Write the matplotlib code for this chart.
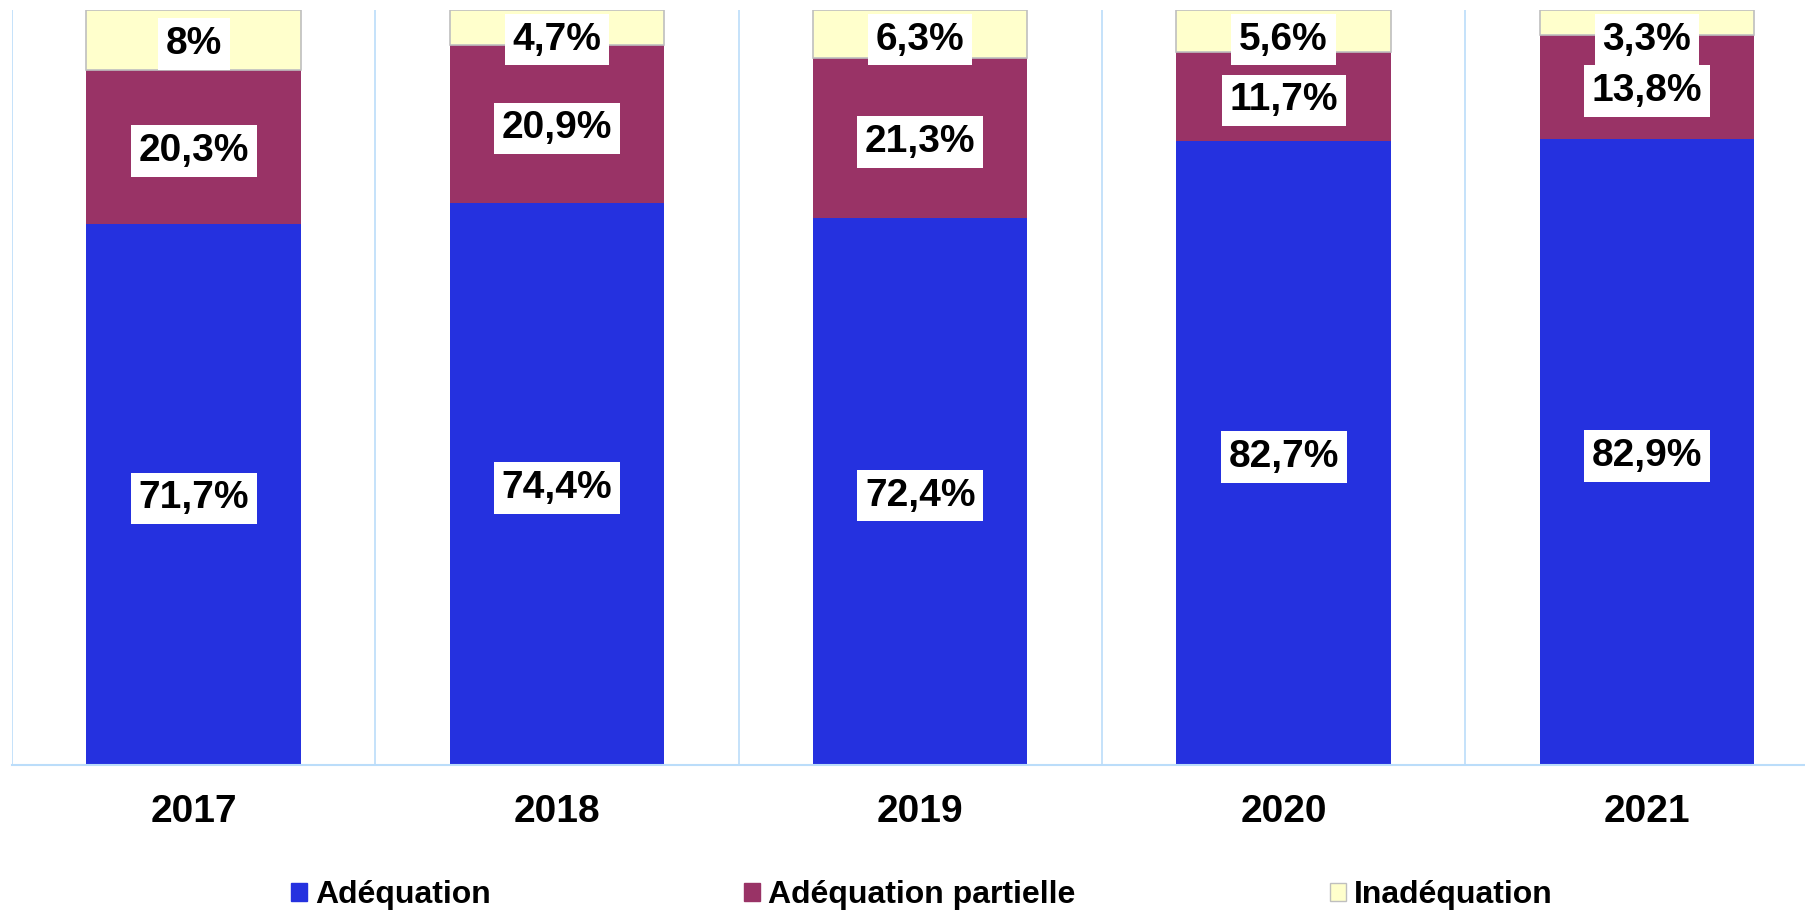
import matplotlib
matplotlib.use("Agg")
import matplotlib.pyplot as plt
from matplotlib.patches import Patch
import numpy as np

plt.rcParams['font.family'] = ['Liberation Sans', 'DejaVu Sans']
plt.rcParams['font.weight'] = 'bold'

years = ["2017", "2018", "2019", "2020", "2021"]
adequation = [71.7, 74.4, 72.4, 82.7, 82.9]
partielle = [20.3, 20.9, 21.3, 11.7, 13.8]
inadequation = [8.0, 4.7, 6.3, 5.6, 3.3]
series_names = ["Adéquation", "Adéquation partielle", "Inadéquation"]
colors = ["#2531DF", "#993366", "#FFFFCC"]
edges = ["none", "none", "#BFBFBF"]

W, H = 1806, 910
fig = plt.figure(figsize=(W / 100, H / 100), dpi=100)
left_px, top_px, bottom_px, cat_px = 12, 10, 765, 363.3
ax = fig.add_axes([left_px / W, (H - bottom_px) / H, cat_px * 5 / W, (bottom_px - top_px) / H])

x = np.arange(len(years))
bw = 0.59
series = [adequation, partielle, inadequation]
bottoms = np.zeros(len(years))
for vals, col, ec in zip(series, colors, edges):
    vals = np.array(vals)
    ax.bar(x, vals, bw, bottom=bottoms, color=col, edgecolor=ec, linewidth=1.2, zorder=2)
    half_box = 3.4
    for xi, b, v in zip(x, bottoms, vals):
        yc = min(b + v / 2, 100 - half_box)
        txt = f"{v:.1f}".replace(".", ",").replace(",0", "") + "%"
        ax.text(xi, yc, txt, ha='center', va='center_baseline', fontsize=28, fontweight='bold',
                color='black', zorder=5,
                bbox=dict(boxstyle='square,pad=0.2', facecolor='white', edgecolor='none'))
    bottoms = bottoms + vals

ax.set_xlim(-0.5, 4.5)
ax.set_ylim(0, 100)
grid_col = "#BBDDFA"
for b in np.arange(-0.5, 5.0, 1.0):
    ax.axvline(b, color=grid_col, linewidth=1.2, zorder=1)
for s in ['top', 'right', 'left']:
    ax.spines[s].set_visible(False)
ax.spines['bottom'].set_color(grid_col)
ax.spines['bottom'].set_linewidth(1.5)
ax.set_yticks([])
ax.set_xticks(x)
ax.set_xticklabels(years, fontsize=28, fontweight='bold')
ax.tick_params(axis='x', length=0, pad=21)

handles = [Patch(facecolor=c, edgecolor=(e if e != "none" else c)) for c, e in zip(colors, edges)]
fig.legend(handles, series_names, loc='center', bbox_to_anchor=(0.5103, 0.0165), ncol=3,
           frameon=False, prop={'family': 'Liberation Sans', 'weight': 'bold', 'size': 23},
           handlelength=0.5, handleheight=0.5, handletextpad=0.25, columnspacing=7.95,
           borderpad=0, borderaxespad=0)

fig.savefig("out.png", dpi=100)
